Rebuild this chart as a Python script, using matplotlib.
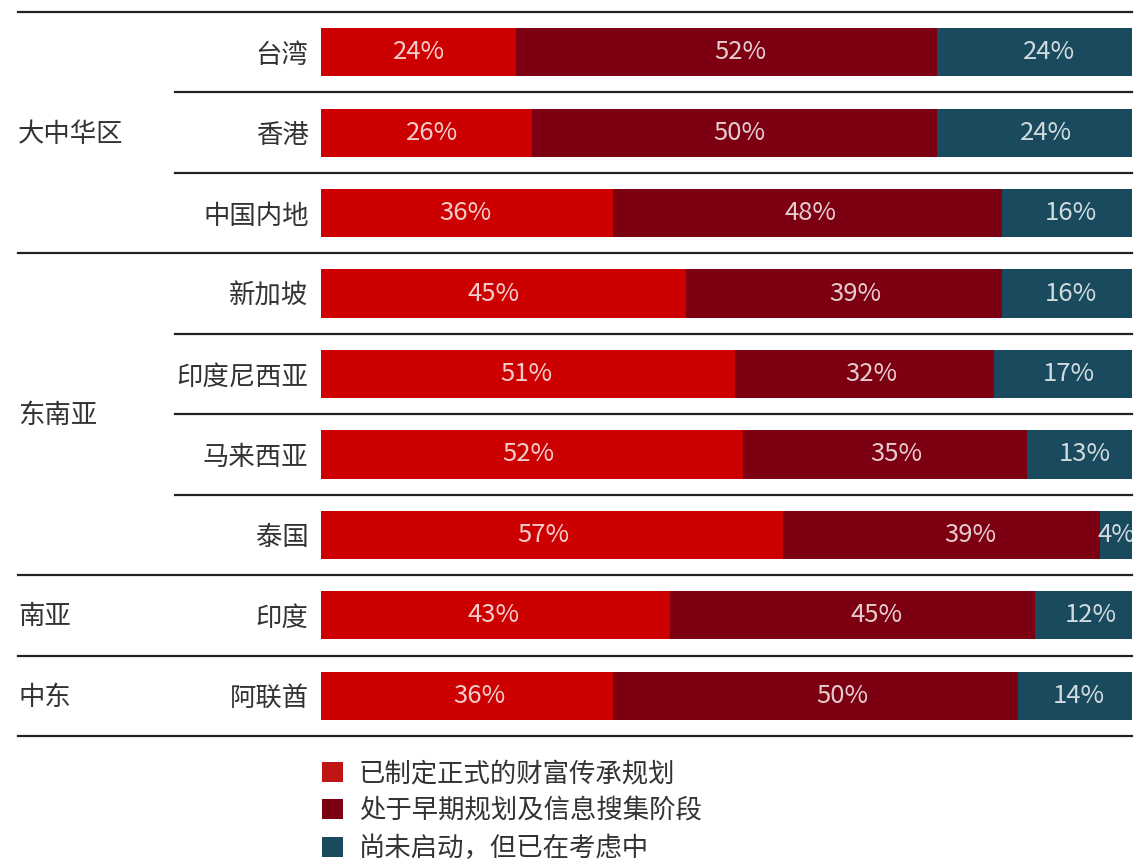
import matplotlib
matplotlib.use('Agg')
import matplotlib.pyplot as plt
from matplotlib.patches import Patch

plt.rcParams['font.family'] = ['Noto Sans CJK SC', 'DejaVu Sans']

markets = ['台湾', '香港', '中国内地', '新加坡', '印度尼西亚', '马来西亚', '泰国', '印度', '阿联酋']
formal_plan = [24, 26, 36, 45, 51, 52, 57, 43, 36]
early_stage = [52, 50, 48, 39, 32, 35, 39, 45, 50]
not_started = [24, 24, 16, 16, 17, 13, 4, 12, 14]

# region name, first row, last row
regions = [('大中华区', 0, 2), ('东南亚', 3, 6), ('南亚', 7, 7), ('中东', 8, 8)]

series_names = ['已制定正式的财富传承规划', '处于早期规划及信息搜集阶段', '尚未启动，但已在考虑中']
colors = ['#cc0000', '#7c0011', '#1a4a5e']
legend_colors = ['#bf1515', '#7c0011', '#1a4a5e']

# label nudges (pixels) - the original labels aren't exactly centred
label_shift = [
    [1, 6, -2, -10, -1, -3, -9, -2, 12],
    [14, 5, 3, 11, 7, 12, 29, 24, 27],
    [14, 11, 4, 4, 6, 6, 1, 7, 4],
]

W, H = 1136, 863
fig = plt.figure(figsize=(W / 100, H / 100), dpi=100)
ax = fig.add_axes([321 / W, 1 - 736 / H, 811 / W, 724 / H])
px = 100 / 811  # data units per pixel along x

rows = list(range(len(markets)))
left = [0] * len(markets)
for vals, col, shift in zip([formal_plan, early_stage, not_started], colors, label_shift):
    ax.barh(rows, vals, left=left, height=0.6, color=col, linewidth=0)
    for r, v, l, s in zip(rows, vals, left, shift):
        ax.text(l + v / 2 + s * px, r, f'{v}%', ha='center', va='center',
                color='white', alpha=0.8, fontsize=18.5, fontweight='light')
    left = [a + b for a, b in zip(left, vals)]

ax.set_xlim(0, 100)
ax.set_ylim(len(markets) - 0.5, -0.5)
ax.set_yticks(rows)
ax.set_yticklabels(markets, fontsize=19, color='#333333')
ax.tick_params(axis='y', length=0, pad=9)
ax.set_xticks([])
for s in ax.spines.values():
    s.set_visible(False)

ytr = ax.get_yaxis_transform()
group_starts = {r[1] for r in regions}
x_far = (18 - 321) / 811
x_near = (175 - 321) / 811
ax.plot([x_far, 1], [-0.5, -0.5], transform=ytr, color='#222222', lw=1.6, clip_on=False)
for i in rows:
    y = i + 0.5
    x0 = x_far if (i + 1) in group_starts or i == len(markets) - 1 else x_near
    ax.plot([x0, 1], [y, y], transform=ytr, color='#222222', lw=1.6, clip_on=False)

for name, a, b in regions:
    ax.text(x_far, (a + b) / 2 + 0.02, name, transform=ytr, ha='left', va='center',
            fontsize=19, color='#333333')

handles = [Patch(facecolor=c, edgecolor='none') for c in legend_colors]
fig.legend(handles, series_names, loc='upper left', bbox_to_anchor=(322 / W, 1 - 760 / H),
           frameon=False, fontsize=19, handlelength=0.8, handleheight=0.8,
           handletextpad=0.6, labelspacing=0.4, borderpad=0, borderaxespad=0,
           labelcolor='#333333')

fig.savefig('out.png', dpi=100)
